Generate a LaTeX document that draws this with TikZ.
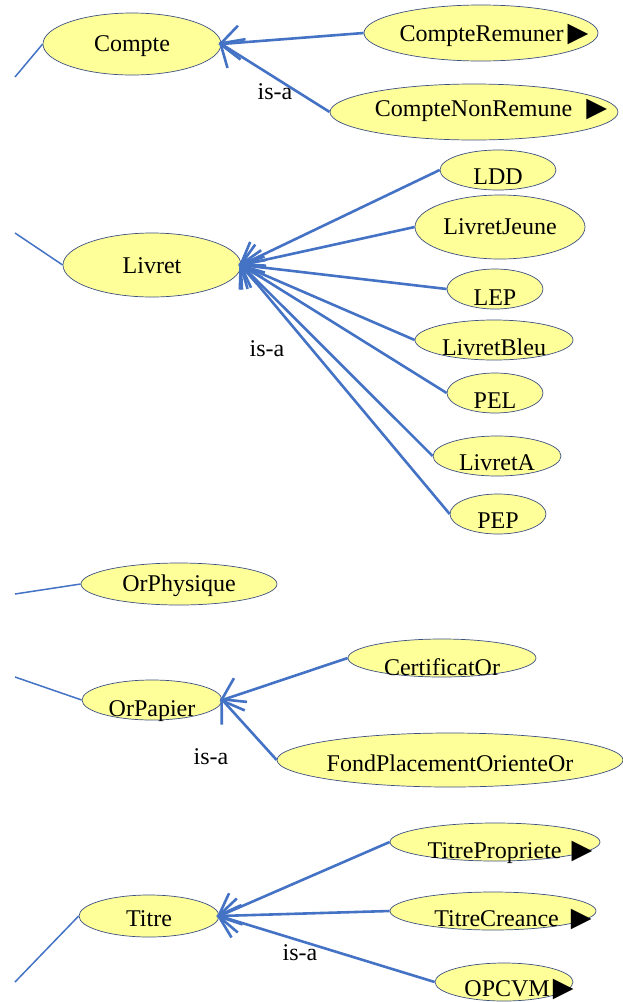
\documentclass[tikz,border=0pt]{standalone}
\usepackage{fontspec}
\setmainfont{Liberation Serif}
\newfontfamily\symfont{DejaVu Sans}
\usetikzlibrary{shapes.geometric,arrows.meta}

\definecolor{clsfill}{RGB}{255,255,153}
\definecolor{clsline}{RGB}{60,80,130}
\definecolor{linkblue}{RGB}{68,114,196}
\newcommand{\tri}{{\symfont\fontsize{27}{27}\selectfont ▶}}
% text of a class: shift right, drop below centre, label
\newcommand{\etxt}[3]{\smash{\makebox[0pt]{\hspace*{#1}\raisebox{-#2}{#3}}}}

\begin{document}
\begin{tikzpicture}[x=1pt,y=-1pt,
  cls/.style={ellipse, draw=clsline, fill=clsfill, line width=.7pt, inner sep=0pt,
    font=\fontsize{24}{28}\selectfont},
  esize/.style 2 args={minimum width=#1pt, minimum height=#2pt},
  isa/.style={draw=linkblue, line width=2.6pt, shorten >=-3pt,
    -{Straight Barb[length=19pt,width=34pt]}},
  inlink/.style={draw=linkblue, line width=1.5pt},
  lbl/.style={font=\fontsize{24}{28}\selectfont}]
\useasboundingbox (0,0) rectangle (622,1002);
% compte
\node [cls, esize={178}{62}] (compte) at (132,44) {\etxt{0pt}{7pt}{Compte}};
\node [cls, esize={234}{56}] (crem) at (481,33) {\etxt{26pt}{8pt}{CompteRemuner\hspace{4pt}\tri}};
\node [cls, esize={288}{56}] (cnrem) at (474,112) {\etxt{34pt}{4pt}{CompteNonRemune\hspace{14pt}\tri}};
\coordinate (compteIn) at (15,77);
\draw [inlink] (compteIn) -- (compte.west);
\draw [isa] (crem.west) -- (compte.east);
\draw [isa] (cnrem.west) -- (compte.east);
\node [lbl] (isaCompte) at (275,92) {is-a};
% livret
\node [cls, esize={178}{64}] (livret) at (152,265) {\etxt{0pt}{8pt}{Livret}};
\node [cls, esize={116}{40}] (ldd) at (498,170) {\etxt{0pt}{14pt}{LDD}};
\node [cls, esize={170}{64}] (ljeune) at (500,227) {\etxt{0pt}{7pt}{LivretJeune}};
\node [cls, esize={96}{40}] (lep) at (495,289) {\etxt{0pt}{16pt}{LEP}};
\node [cls, esize={158}{40}] (lbleu) at (494,340) {\etxt{0pt}{15pt}{LivretBleu}};
\node [cls, esize={96}{40}] (pel) at (495,393) {\etxt{0pt}{15pt}{PEL}};
\node [cls, esize={128}{40}] (livA) at (497,456) {\etxt{0pt}{14pt}{LivretA}};
\node [cls, esize={96}{40}] (pep) at (498,514) {\etxt{0pt}{14pt}{PEP}};
\coordinate (livretIn) at (15,233);
\draw [inlink] (livretIn) -- (livret.west);
\foreach \n in {ldd,ljeune,lep,lbleu,pel,livA,pep}
  \draw [isa] (\n.west) -- (livret.east);
\node [lbl] (isaLivret) at (267,349) {is-a};
% or physique
\node [cls, esize={196}{42}] (orphys) at (179,584) {\etxt{0pt}{7pt}{OrPhysique}};
\coordinate (orphysIn) at (15,594);
\draw [inlink] (orphysIn) -- (orphys.west);
% or papier
\node [cls, esize={140}{40}] (orpap) at (152,700) {\etxt{0pt}{16pt}{OrPapier}};
\node [cls, esize={188}{38}] (certif) at (442,658) {\etxt{0pt}{17pt}{CertificatOr}};
\node [cls, esize={346}{54}] (fpoo) at (450,760) {\etxt{0pt}{11pt}{FondPlacementOrienteOr}};
\coordinate (orpapIn) at (15,677);
\draw [inlink] (orpapIn) -- (orpap.west);
\draw [isa] (certif.west) -- (orpap.east);
\draw [isa] (fpoo.west) -- (orpap.east);
\node [lbl] (isaOrpap) at (211,757) {is-a};
% titre
\node [cls, esize={140}{42}] (titre) at (149,916) {\etxt{0pt}{10pt}{Titre}};
\node [cls, esize={210}{38}] (tprop) at (495,842) {\etxt{30pt}{16pt}{TitrePropriete\hspace{10pt}\tri}};
\node [cls, esize={206}{38}] (tcre) at (493,911) {\etxt{40pt}{15pt}{TitreCreance\hspace{12pt}\tri}};
\node [cls, esize={138}{38}] (opcvm) at (504,982) {\etxt{30pt}{14pt}{OPCVM\hspace{3pt}\tri}};
\coordinate (titreIn) at (15,982);
\draw [inlink] (titreIn) -- (titre.west);
\foreach \n in {tprop,tcre,opcvm}
  \draw [isa] (\n.west) -- (titre.east);
\node [lbl] (isaTitre) at (300,953) {is-a};
\end{tikzpicture}
\end{document}
